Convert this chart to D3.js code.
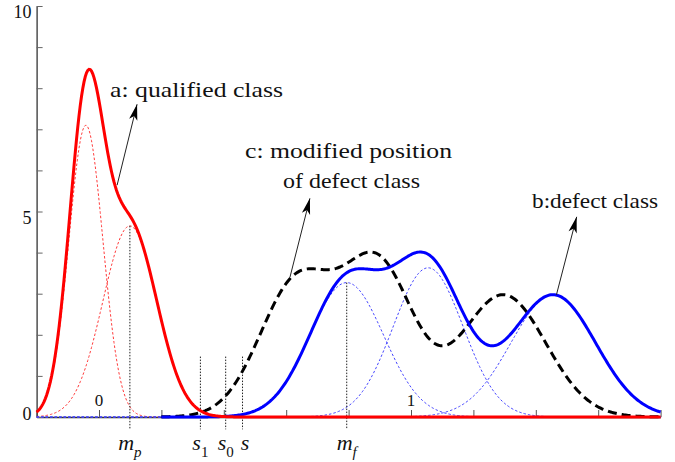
<!DOCTYPE html>
<html><head><meta charset="utf-8">
<script src="https://cdn.jsdelivr.net/npm/d3@7"></script>
<style>
body{margin:0;background:#fff;}
svg{display:block;}
svg text{font-family:'Liberation Serif';fill:#111;}
</style>
</head><body>
<svg id="chart" width="675" height="462" font-family="Liberation Serif"></svg>
<script>
// ---- data ----
// a: qualified class (two gaussian components)
const qualifiedMeans  = [-0.042, 0.099];
const qualifiedSigmas = [0.0545, 0.0865];
const qualifiedPeaks  = [7.1, 4.65];
// b: defect class (three gaussian components)
const defectMeans  = [0.794, 1.055, 1.456];
const defectSigmas = [0.1186, 0.112, 0.136];
const defectPeaks  = [3.27, 3.63, 2.97];
// c: modified position of defect class (same components shifted left)
const modifiedMeans  = [0.634, 0.895, 1.296];
const modifiedSigmas = [0.1186, 0.112, 0.136];
const modifiedPeaks  = [3.27, 3.63, 2.97];
// thresholds
const thresholdMain = ["s", "s", "s"];
const thresholdSub  = ["1", "0", ""];
const thresholdValues = [0.325, 0.406, 0.46];
const thresholdTop = 1.47;
// axis ticks
const xTickValues = [-0.2, 0, 0.2, 0.4, 0.6, 0.8, 1, 1.2, 1.4, 1.6, 1.8];
const xTickLabels = [0, 1];
const yTickValues = [0, 1, 2, 3, 4, 5, 6, 7, 8, 9, 10];
const yTickLabels = [0, 5, 10];
// annotations
const annotationTexts = ["a: qualified class", "c: modified position", "of defect class", "b:defect class"];
const arrowFrom = [[0.058, 5.64], [0.612, 3.40], [1.466, 2.97]];
const arrowTo   = [[0.122, 7.61], [0.676, 5.32], [1.531, 4.87]];

// ---- drawing ----
const FONT = "'Liberation Serif', 'Times New Roman', serif";
const svg = d3.select("#chart");
const x = d3.scaleLinear().domain([-0.2, 1.8]).range([36.6, 660.6]);
const y = d3.scaleLinear().domain([0, 10]).range([417, 6]);

const gauss = (m, s, a) => v => a * Math.exp(-0.5 * ((v - m) / s) ** 2);
const grid = d3.range(-0.2, 1.8001, 0.004);
const gridRight = grid.filter(v => v >= 0.2);

function comps(means, sigmas, peaks) { return means.map((m, i) => gauss(m, sigmas[i], peaks[i])); }
const qComps = comps(qualifiedMeans, qualifiedSigmas, qualifiedPeaks);
const dComps = comps(defectMeans, defectSigmas, defectPeaks);
const mComps = comps(modifiedMeans, modifiedSigmas, modifiedPeaks);
const sumOf = cs => v => d3.sum(cs, f => f(v));

const line = d3.line().x(d => x(d[0])).y(d => y(d[1])).curve(d3.curveLinear);

// axes
const xAxis = d3.axisTop(x).tickValues(xTickValues).tickSize(7).tickSizeOuter(0).tickFormat("");
const gx = svg.append("g").attr("transform", `translate(0,${y(0)})`).call(xAxis);
gx.select(".domain").attr("stroke", "#333").attr("stroke-width", 1.3);
gx.selectAll(".tick line").attr("stroke", "#555");

const yAxis = d3.axisRight(y).tickValues(yTickValues).tickSize(6).tickSizeOuter(0).tickFormat("");
const gy = svg.append("g").attr("transform", `translate(${x(-0.2)},0)`).call(yAxis);
gy.select(".domain").attr("stroke", "#333").attr("stroke-width", 1.3);
gy.selectAll(".tick line").attr("stroke", "#666");

svg.selectAll(".ylab").data(yTickLabels).enter().append("text")
  .attr("font-family", FONT)
  .attr("x", x(-0.2) - 5).attr("y", d => y(d) + (d === 0 ? 3 : 12))
  .attr("text-anchor", "end").attr("font-size", 18).text(d => d);
svg.selectAll(".xlab").data(xTickLabels).enter().append("text")
  .attr("font-family", FONT)
  .attr("x", d => x(d)).attr("y", y(0) - 11)
  .attr("text-anchor", "middle").attr("font-size", 17).text(d => d);

// component curves (thin dotted)
qComps.forEach(f => svg.append("path").datum(grid.map(v => [v, f(v)]))
  .attr("d", line).attr("fill", "none").attr("stroke", "#ff3b3b")
  .attr("stroke-width", 1).attr("stroke-dasharray", "2.5,2"));
dComps.forEach(f => svg.append("path").datum(grid.map(v => [v, f(v)]))
  .attr("d", line).attr("fill", "none").attr("stroke", "#4646ff")
  .attr("stroke-width", 1).attr("stroke-dasharray", "2.5,2"));

// guide lines
const guideBottom = -0.3;
const guides = [
  {v: qualifiedMeans[1], top: qualifiedPeaks[1]},
  {v: defectMeans[0], top: defectPeaks[0]}
].concat(thresholdValues.map(v => ({v, top: thresholdTop})));
svg.selectAll(".guide").data(guides).enter().append("line")
  .attr("x1", d => x(d.v)).attr("x2", d => x(d.v))
  .attr("y1", d => y(d.top)).attr("y2", y(guideBottom))
  .attr("stroke", "#222").attr("stroke-width", 1).attr("stroke-dasharray", "1.5,1.5");

// modified (black dashed)
svg.append("path").datum(gridRight.map(v => [v, sumOf(mComps)(v)]))
  .attr("d", line).attr("fill", "none").attr("stroke", "#000")
  .attr("stroke-width", 3).attr("stroke-dasharray", "9,5");
// defect (blue)
svg.append("path").datum(gridRight.map(v => [v, sumOf(dComps)(v)]))
  .attr("d", line).attr("fill", "none").attr("stroke", "#0000ff").attr("stroke-width", 3);
// qualified (red)
svg.append("path").datum(grid.map(v => [v, sumOf(qComps)(v)]))
  .attr("d", line).attr("fill", "none").attr("stroke", "#ff0000").attr("stroke-width", 3);

// arrows
const defs = svg.append("defs");
defs.append("marker").attr("id", "ah").attr("markerUnits", "userSpaceOnUse")
  .attr("markerWidth", 20).attr("markerHeight", 12).attr("refX", 0).attr("refY", 0)
  .attr("viewBox", "-17 -6 18 12").attr("orient", "auto")
  .append("path").attr("d", "M0,0 L-16,-4.2 L-12,0 L-16,4.2 Z").attr("fill", "#000");
arrowFrom.forEach((p, i) => {
  svg.append("line").attr("x1", x(p[0])).attr("y1", y(p[1]))
    .attr("x2", x(arrowTo[i][0])).attr("y2", y(arrowTo[i][1]))
    .attr("stroke", "#222").attr("stroke-width", 1).attr("marker-end", "url(#ah)");
});

// annotation texts
const annPos = [[110, 97, 173], [245, 158, 207], [283, 188, 137], [532, 208, 126]];
annotationTexts.forEach((t, i) => {
  svg.append("text").attr("font-family", FONT)
    .attr("x", annPos[i][0]).attr("y", annPos[i][1])
    .attr("font-size", 22).attr("textLength", annPos[i][2])
    .attr("lengthAdjust", "spacingAndGlyphs").text(t);
});

// bottom labels
function subLabel(xv, main, sub, subItalic) {
  const t = svg.append("text").attr("font-family", FONT)
    .attr("x", x(xv)).attr("y", 450)
    .attr("text-anchor", "middle").attr("font-size", 22);
  t.append("tspan").attr("font-style", "italic").text(main);
  if (sub) t.append("tspan").attr("font-size", 15).attr("dy", 7)
    .attr("font-style", subItalic ? "italic" : "normal").text(sub);
}
subLabel(qualifiedMeans[1], "m", "p", true);
subLabel(defectMeans[0], "m", "f", true);
thresholdValues.forEach((v, i) => subLabel(v + (thresholdSub[i] ? 0 : 0.008), thresholdMain[i], thresholdSub[i], false));
</script>
</body></html>
